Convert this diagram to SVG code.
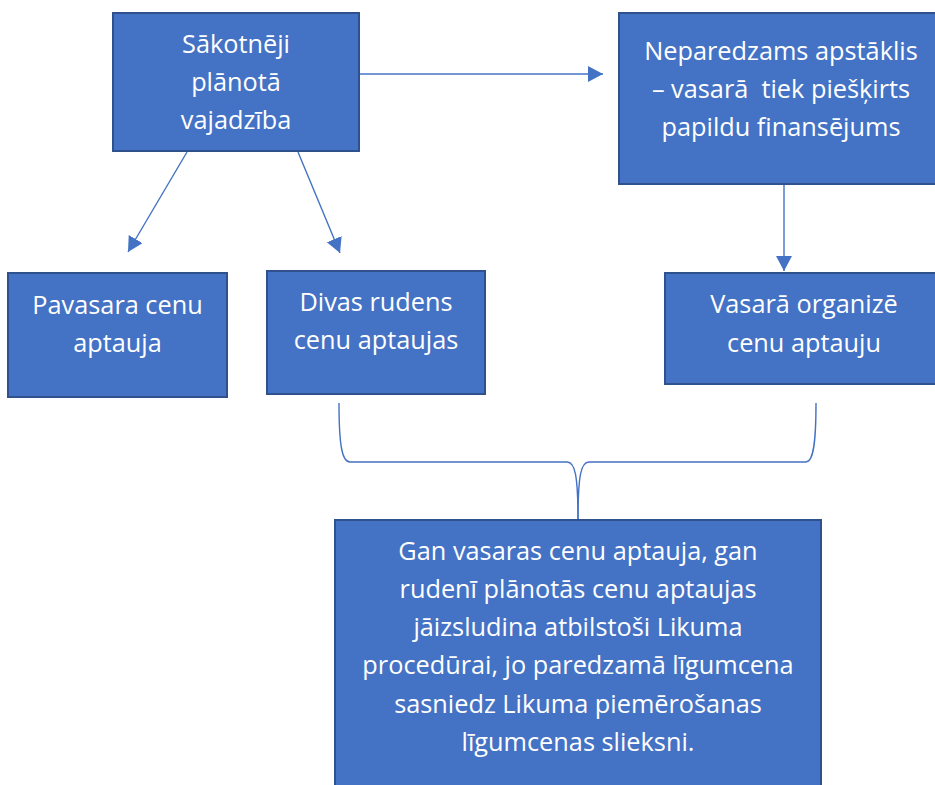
<svg xmlns="http://www.w3.org/2000/svg" width="935" height="785" viewBox="0 0 935 785">
<style>
.box{fill:#4472C4;stroke:#2F528F;stroke-width:2}
.t{font-family:"Open Sans","Noto Sans",sans-serif;font-size:25.3px;fill:#ffffff;text-anchor:middle}
.c{fill:none;stroke:#4472C4;stroke-width:1.4}
</style>
<defs>
<marker id="ah" markerUnits="userSpaceOnUse" markerWidth="16" markerHeight="18" refX="15" refY="8" orient="auto">
<path d="M0,0 L15,8 L0,16 Z" fill="#4472C4"/>
</marker>
</defs>
<rect width="935" height="785" fill="#ffffff"/>
<g id="connectors">
<line class="c" x1="360" y1="74" x2="603" y2="74" marker-end="url(#ah)"/>
<line class="c" x1="187" y1="152" x2="128" y2="252" marker-end="url(#ah)"/>
<line class="c" x1="298" y1="152" x2="340" y2="253" marker-end="url(#ah)"/>
<line class="c" x1="784" y1="185" x2="784" y2="271" marker-end="url(#ah)"/>
<path class="c" d="M339,403 C339,445 342,462 350,462 L567,462 C575,462 578,475 578,520"/>
<path class="c" d="M816,403 C816,445 813,462 806,462 L589,462 C581,462 578,475 578,520"/>
</g>
<g id="n1">
<rect class="box" x="113" y="13" width="246" height="138"/>
<text class="t" x="236" y="53">Sākotnēji</text>
<text class="t" x="236" y="91">plānotā</text>
<text class="t" x="236" y="129">vajadzība</text>
</g>
<g id="n2">
<rect class="box" x="619" y="13" width="330" height="171"/>
<text class="t" x="781" y="60">Neparedzams apstāklis</text>
<text class="t" x="781" y="98" xml:space="preserve">– vasarā  tiek piešķirts</text>
<text class="t" x="781" y="136">papildu finansējums</text>
</g>
<g id="n3">
<rect class="box" x="8" y="273" width="219" height="124"/>
<text class="t" x="117.5" y="314">Pavasara cenu</text>
<text class="t" x="117.5" y="352">aptauja</text>
</g>
<g id="n4">
<rect class="box" x="267" y="271" width="218" height="123"/>
<text class="t" x="376" y="311">Divas rudens</text>
<text class="t" x="376" y="349">cenu aptaujas</text>
</g>
<g id="n5">
<rect class="box" x="665" y="273" width="284" height="111"/>
<text class="t" x="804" y="313">Vasarā organizē</text>
<text class="t" x="804" y="352">cenu aptauju</text>
</g>
<g id="n6">
<rect class="box" x="335" y="520" width="486" height="280"/>
<text class="t" x="578" y="560">Gan vasaras cenu aptauja, gan</text>
<text class="t" x="578" y="598">rudenī plānotās cenu aptaujas</text>
<text class="t" x="578" y="636">jāizsludina atbilstoši Likuma</text>
<text class="t" x="578" y="674">procedūrai, jo paredzamā līgumcena</text>
<text class="t" x="578" y="713">sasniedz Likuma piemērošanas</text>
<text class="t" x="578" y="751">līgumcenas slieksni.</text>
</g>
</svg>
